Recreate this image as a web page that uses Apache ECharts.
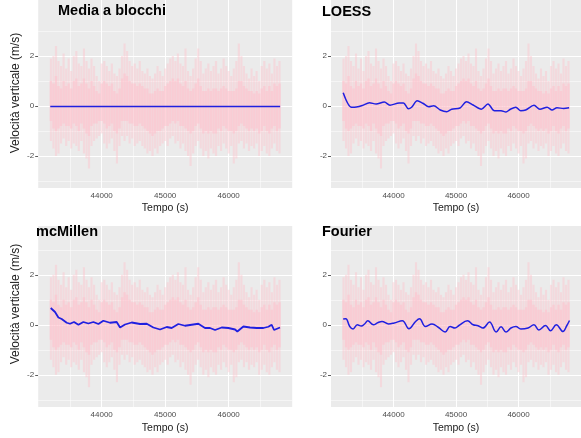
<!DOCTYPE html>
<html>
<head>
<meta charset="utf-8">
<script src="https://cdn.jsdelivr.net/npm/echarts@6/dist/echarts.min.js"></script>
<style>
  html, body { margin: 0; padding: 0; background: #fff; }
  #chart { width: 581px; height: 438px; }
</style>
</head>
<body>
<div id="chart"></div>
<script>
// raw signal cloud (same in all four panels), read as envelopes every 40 s
const cloudStart = 43200, cloudStep = 40;
const cloudHi = [1.9,2.0,2.4,1.8,1.6,2.1,1.5,1.9,1.4,2.0,
  2.2,1.7,1.6,2.3,1.8,1.5,1.9,1.6,1.2,1.0,
  1.7,1.8,1.6,1.4,1.7,1.3,1.2,1.5,2.0,2.5,
  2.2,1.8,1.6,1.7,1.5,1.8,1.4,1.3,1.5,1.2,
  1.1,1.3,1.6,1.4,1.2,1.5,1.7,1.9,2.0,1.8,
  2.1,1.7,1.6,2.3,1.4,1.2,1.5,1.9,2.3,1.8,
  1.3,1.5,1.7,1.4,1.6,1.8,1.3,1.5,1.9,1.6,
  1.4,1.2,1.5,1.8,2.5,2.0,1.6,1.3,1.1,1.5,
  1.2,1.4,1.0,1.6,1.8,1.5,1.7,1.3,1.9,1.6,
  1.8];
const cloudLo = [-1.4,-1.7,-2.0,-1.9,-1.5,-1.3,-1.6,-1.4,-1.7,-1.5,
  -1.6,-1.8,-1.4,-1.9,-2.1,-2.5,-1.6,-1.4,-1.3,-1.2,
  -1.1,-1.5,-1.7,-1.5,-1.3,-1.8,-2.3,-1.6,-1.2,-1.4,
  -1.2,-1.5,-1.3,-1.6,-1.5,-1.4,-1.6,-1.7,-1.9,-1.8,
  -2.0,-1.7,-1.9,-1.6,-1.5,-1.4,-1.6,-1.3,-1.2,-1.5,
  -1.4,-1.7,-1.5,-1.8,-2.0,-2.4,-1.9,-1.6,-1.4,-1.7,
  -2.0,-1.8,-2.1,-1.7,-1.9,-2.0,-1.6,-1.8,-1.5,-1.7,
  -1.9,-1.6,-2.3,-2.1,-1.5,-1.4,-1.7,-1.5,-1.8,-1.6,
  -1.7,-1.5,-2.0,-1.8,-1.6,-1.9,-2.0,-1.7,-1.5,-1.8,
  -1.9];
const coreHi = [1.0,0.9,1.2,0.8,0.7,1.0,0.8,0.9,0.7,1.0,
  1.1,0.8,0.9,1.1,0.9,0.7,1.0,0.8,0.6,0.5,
  0.9,1.0,0.9,0.8,0.9,0.6,0.5,0.7,1.1,1.3,
  1.2,1.0,0.9,0.9,0.8,0.9,0.8,0.7,0.7,0.5,
  0.5,0.6,0.7,0.6,0.6,0.8,0.9,1.0,1.1,1.0,
  1.1,0.9,0.8,1.0,0.7,0.6,0.7,0.9,1.1,0.8,
  0.6,0.6,0.7,0.6,0.7,0.7,0.6,0.7,0.8,0.7,
  0.6,0.6,0.6,0.7,1.0,1.0,0.8,0.7,0.6,0.6,
  0.5,0.6,0.5,0.7,0.8,0.6,0.8,0.6,0.9,0.8,
  0.9];
const coreLo = [-0.6,-0.9,-1.0,-0.9,-0.8,-0.7,-0.8,-0.8,-0.9,-0.7,
  -0.8,-1.0,-0.7,-0.9,-1.1,-1.2,-0.8,-0.7,-0.7,-0.6,
  -0.6,-0.7,-0.9,-0.8,-0.7,-1.0,-1.1,-0.9,-0.6,-0.6,
  -0.6,-0.7,-0.7,-0.8,-0.8,-0.7,-0.8,-0.9,-1.0,-1.1,
  -1.2,-1.1,-1.0,-1.0,-0.9,-0.8,-0.8,-0.7,-0.6,-0.7,
  -0.6,-0.8,-0.8,-0.9,-1.0,-1.1,-1.0,-0.8,-0.7,-0.9,
  -1.1,-1.0,-1.1,-1.0,-1.1,-1.1,-0.9,-1.0,-0.8,-0.9,
  -1.0,-1.0,-1.1,-1.0,-0.8,-0.7,-0.8,-0.9,-1.0,-0.9,
  -1.0,-0.9,-1.1,-1.0,-0.8,-1.0,-1.1,-0.9,-0.8,-1.0,
  -0.9];

// filtered signals
const bloccoTempo = [43190, 46810];
const bloccoVel = [-0.02, -0.02];

const loessTempo = [43195,43328,43407,43500,43616,43722,43853,43943,44090,44160,44237,44290,44379,44469,44564,44643,44748,44852,44931,45064,45168,45274,45405,45511,45616,45721,45799,45869,45957,46036,46115,46248,46342,46458,46537,46616,46721,46810];
const loessVel = [0.53,-0.05,-0.04,0.02,0.13,0.08,0.16,0.03,0.12,0.12,-0.11,-0.05,0.21,0.11,-0.03,0.01,-0.16,-0.23,-0.13,-0.08,0.17,0.04,-0.13,0.08,-0.19,-0.19,-0.24,-0.13,-0.05,-0.19,-0.16,0.03,-0.13,-0.05,-0.16,-0.07,-0.1,-0.07];

const mcmTempo = [43197,43265,43318,43370,43449,43501,43564,43633,43711,43790,43869,43948,44026,44131,44236,44289,44367,44472,44604,44709,44814,44919,45024,45102,45207,45312,45417,45522,45627,45706,45785,45890,45995,46100,46136,46231,46336,46441,46546,46625,46677,46714,46808];
const mcmVel = [0.67,0.51,0.29,0.23,0.08,0.04,0.11,0,0.11,0.05,0.11,0.03,0.16,0.08,0.11,-0.11,0.01,0.09,0.03,0.04,-0.11,-0.19,-0.09,-0.13,0.03,-0.04,0,0.04,-0.13,-0.13,-0.21,-0.11,-0.13,-0.19,-0.27,-0.07,-0.11,-0.13,-0.13,-0.08,0,-0.21,-0.11];

const fourTempo = [43195,43237,43300,43353,43421,43484,43537,43589,43679,43747,43816,43921,44011,44142,44247,44353,44416,44511,44616,44721,44826,44905,44984,45047,45184,45274,45353,45432,45537,45642,45721,45800,45879,45958,46037,46153,46247,46326,46432,46511,46605,46711,46774,46816];
const fourVel = [0.23,0.24,-0.07,-0.17,0,-0.05,0.03,0.16,0,0.08,0.13,0.03,0.07,0.16,-0.16,0.13,0.24,-0.07,0.03,-0.11,-0.29,-0.07,-0.13,-0.03,0.16,0,-0.04,-0.13,0.11,-0.29,-0.08,-0.29,-0.13,-0.07,-0.17,-0.13,0,-0.21,-0.03,-0.24,0,-0.27,-0.03,0.17];

// axis ticks
const xMajor = [44000, 45000, 46000];
const xMinor = [43500, 44500, 45500, 46500];
const yMajor = [-2, 0, 2];
const yMinor = [-3, -1, 1, 3];

const titles = ['Media a blocchi', 'LOESS', 'mcMillen', 'Fourier'];
const filtered = [
  [bloccoTempo, bloccoVel],
  [loessTempo, loessVel],
  [mcmTempo, mcmVel],
  [fourTempo, fourVel]
];
const smoothing = [false, 0.3, false, 0.4];

const FONT = '"Liberation Sans", Arial, Helvetica, sans-serif';

const panels = [
  { left: 38.2, top: 0, width: 254, height: 188, yMin: -3.28, yMax: 4.24, titleX: 58, titleY: 3 },
  { left: 331, top: 0, width: 253.4, height: 188, yMin: -3.28, yMax: 4.24, titleX: 322, titleY: 4 },
  { left: 38.2, top: 226, width: 254, height: 181, yMin: -3.29, yMax: 3.95, titleX: 36, titleY: 224 },
  { left: 331, top: 226, width: 253.4, height: 181, yMin: -3.29, yMax: 3.95, titleX: 322, titleY: 224 }
];

const cloudRows = cloudHi.map(function (h, i) {
  return [cloudStart + i * cloudStep, h, cloudLo[i], coreHi[i], coreLo[i]];
});

function renderCloud(params, api) {
  let t = api.value(0);
  let w = api.size([cloudStep, 0])[0];
  let a = api.coord([t, api.value(1)]);
  let b = api.coord([t, api.value(2)]);
  let c = api.coord([t, api.value(3)]);
  let d = api.coord([t, api.value(4)]);
  return {
    type: 'group',
    children: [
      { type: 'rect', shape: { x: a[0] - w * 0.42, y: a[1], width: w * 0.84, height: b[1] - a[1] },
        style: { fill: 'rgba(255,192,203,0.42)' } },
      { type: 'rect', shape: { x: c[0] - w / 2, y: c[1], width: w, height: d[1] - c[1] },
        style: { fill: 'rgba(255,192,203,0.5)' } }
    ]
  };
}

let grid = [], xAxis = [], yAxis = [], series = [], title = [];

panels.forEach(function (p, i) {
  grid.push({ left: p.left, top: p.top, width: p.width, height: p.height,
    show: true, backgroundColor: '#EBEBEB', borderWidth: 0 });

  xAxis.push({
    gridIndex: i, type: 'value', min: 43000, max: 47000,
    name: 'Tempo (s)', nameLocation: 'middle', nameGap: i < 2 ? 15 : 16,
    nameTextStyle: { color: '#1a1a1a', fontSize: 10.5, fontFamily: FONT },
    axisLine: { show: false },
    axisTick: { show: true, length: 3, customValues: xMajor, lineStyle: { color: '#333', width: 0.8 } },
    axisLabel: { customValues: xMajor, margin: 4, color: '#4d4d4d', fontSize: 8, fontFamily: FONT,
      formatter: function (v) { return String(v); } },
    splitLine: { show: false }
  });

  yAxis.push({
    gridIndex: i, type: 'value', min: p.yMin, max: p.yMax,
    axisLine: { show: false },
    axisTick: { show: true, length: 3, customValues: yMajor, lineStyle: { color: '#333', width: 0.8 } },
    axisLabel: { customValues: yMajor, margin: 4, color: '#4d4d4d', fontSize: 8, fontFamily: FONT,
      formatter: function (v) { return String(v); } },
    splitLine: { show: false }
  });

  let lines = [];
  xMajor.forEach(function (v) { lines.push({ xAxis: v, lineStyle: { width: 1.1 } }); });
  xMinor.forEach(function (v) { lines.push({ xAxis: v, lineStyle: { width: 0.5 } }); });
  yMajor.forEach(function (v) { lines.push({ yAxis: v, lineStyle: { width: 1.1 } }); });
  yMinor.forEach(function (v) { lines.push({ yAxis: v, lineStyle: { width: 0.5 } }); });

  series.push({
    type: 'line', xAxisIndex: i, yAxisIndex: i, data: [], silent: true, z: 1,
    markLine: { silent: true, z: 1, symbol: 'none', animation: false, label: { show: false },
      lineStyle: { color: '#ffffff', type: 'solid' }, data: lines }
  });

  series.push({
    type: 'custom', xAxisIndex: i, yAxisIndex: i, z: 2, silent: true,
    renderItem: renderCloud, encode: { x: 0, y: [1, 2] }, data: cloudRows
  });

  let f = filtered[i];
  series.push({
    type: 'line', xAxisIndex: i, yAxisIndex: i, z: 3, silent: true,
    showSymbol: false, smooth: smoothing[i],
    lineStyle: { color: '#2020e0', width: i === 2 ? 1.8 : 1.5 },
    data: f[0].map(function (t, k) { return [t, f[1][k]]; })
  });

  title.push({ text: titles[i], left: p.titleX, top: p.titleY, padding: 0,
    textStyle: { fontSize: 14.5, fontWeight: 'bold', color: '#000', fontFamily: FONT } });
});

let chart = echarts.init(document.getElementById('chart'), null, { renderer: 'canvas' });
chart.setOption({
  animation: false,
  title: title,
  grid: grid,
  xAxis: xAxis,
  yAxis: yAxis,
  series: series,
  graphic: [
    { type: 'text', x: 16, y: 93, rotation: Math.PI / 2,
      style: { text: 'Velocità verticale (m/s)', fill: '#1a1a1a', fontSize: 12, fontFamily: FONT,
        align: 'center', verticalAlign: 'middle' } },
    { type: 'text', x: 16, y: 304, rotation: Math.PI / 2,
      style: { text: 'Velocità verticale (m/s)', fill: '#1a1a1a', fontSize: 12, fontFamily: FONT,
        align: 'center', verticalAlign: 'middle' } }
  ]
});
</script>
</body>
</html>
